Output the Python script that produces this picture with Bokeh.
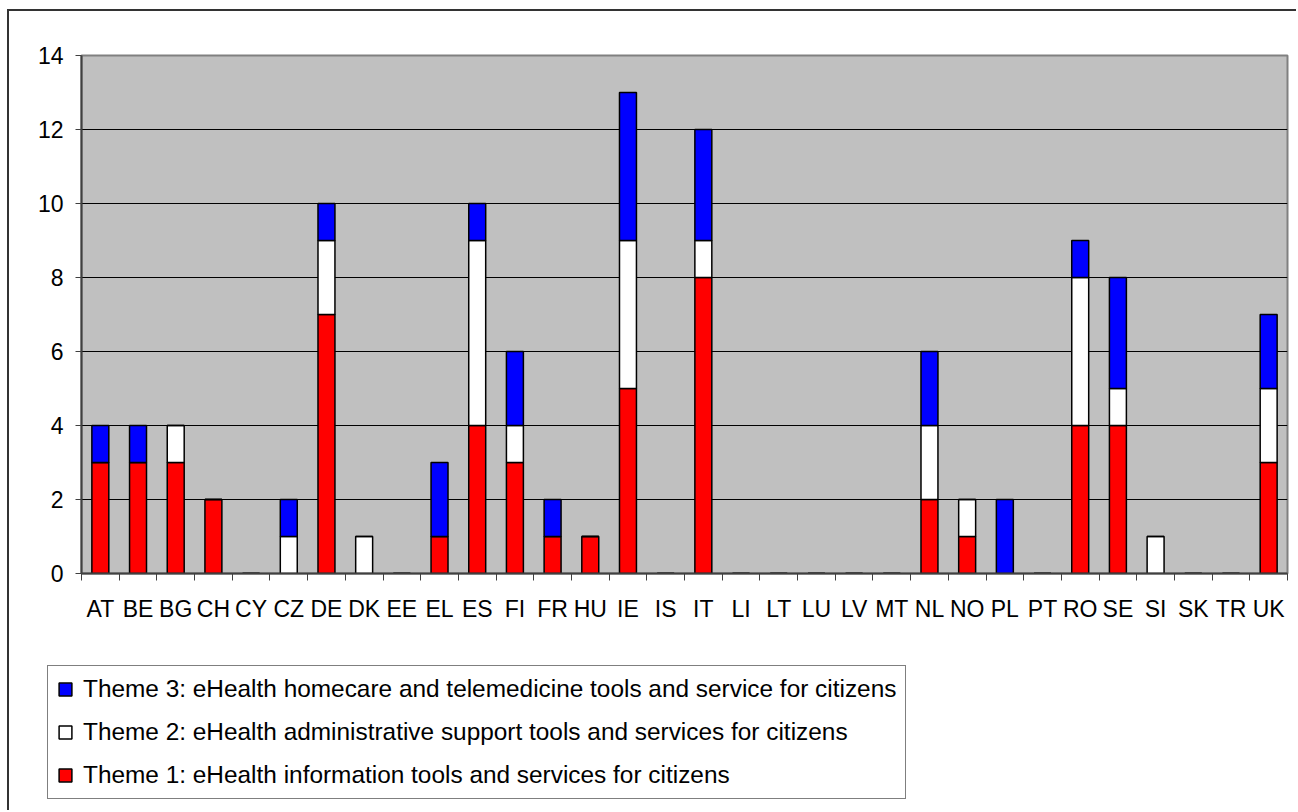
from bokeh.plotting import figure
from bokeh.layouts import column
from bokeh.models import FixedTicker, Legend, LegendItem, ColumnDataSource, Range1d
from bokeh.embed import file_html
from bokeh.resources import INLINE

countries = ["AT", "BE", "BG", "CH", "CY", "CZ", "DE", "DK", "EE", "EL", "ES", "FI",
             "FR", "HU", "IE", "IS", "IT", "LI", "LT", "LU", "LV", "MT", "NL", "NO",
             "PL", "PT", "RO", "SE", "SI", "SK", "TR", "UK"]
theme1 = [3, 3, 3, 2, 0, 0, 7, 0, 0, 1, 4, 3, 1, 1, 5, 0, 8, 0, 0, 0, 0, 0, 2, 1, 0, 0, 4, 4, 0, 0, 0, 3]
theme2 = [0, 0, 1, 0, 0, 1, 2, 1, 0, 0, 5, 1, 0, 0, 4, 0, 1, 0, 0, 0, 0, 0, 2, 1, 0, 0, 4, 1, 1, 0, 0, 2]
theme3 = [1, 1, 0, 0, 0, 1, 1, 0, 0, 2, 1, 2, 1, 0, 4, 0, 3, 0, 0, 0, 0, 0, 2, 0, 2, 0, 1, 3, 0, 0, 0, 2]
y_ticks = [0, 2, 4, 6, 8, 10, 12, 14]
labels = [
    "Theme 1: eHealth information tools and services for citizens",
    "Theme 2: eHealth administrative support tools and services for citizens",
    "Theme 3: eHealth homecare and telemedicine tools and service for citizens",
]
colors = ["#FF0000", "#FFFFFF", "#0000FF"]

FONT = "Liberation Sans"
FS = "23px"
n = len(countries)
xs = list(range(n))
source = ColumnDataSource(dict(x=xs, theme1=theme1, theme2=theme2, theme3=theme3))

p = figure(width=1287, height=639, x_range=(-0.5, n - 0.5), y_range=(0, 14),
           output_backend="svg", toolbar_location=None, frame_align=False,
           min_border_left=72, min_border_top=44, min_border_right=9, min_border_bottom=77)

p.background_fill_color = "#C0C0C0"
p.border_fill_color = "white"
p.outline_line_color = "#808080"
p.outline_line_width = 2

rs = p.vbar_stack(["theme1", "theme2", "theme3"], x="x", width=0.45, source=source,
                  fill_color=colors, line_color="black", line_width=1.5)

p.xgrid.grid_line_color = None
p.ygrid.ticker = FixedTicker(ticks=y_ticks)
p.ygrid.grid_line_color = "black"
p.ygrid.grid_line_width = 1

p.yaxis.ticker = FixedTicker(ticks=y_ticks)
p.yaxis.major_tick_out = 6
p.yaxis.major_tick_in = 0
p.yaxis.minor_tick_line_color = None
p.yaxis.axis_line_color = "#404040"
p.yaxis.axis_line_width = 2
p.yaxis.major_tick_line_color = "#404040"
p.yaxis.major_label_text_font = FONT
p.yaxis.major_label_text_font_size = FS
p.yaxis.major_label_text_color = "black"
p.yaxis.major_label_standoff = 12

p.xaxis.ticker = FixedTicker(ticks=xs, minor_ticks=[i - 0.5 for i in range(n + 1)])
p.xaxis.major_label_overrides = {i: c for i, c in enumerate(countries)}
p.xaxis.major_tick_out = 0
p.xaxis.major_tick_in = 0
p.xaxis.minor_tick_out = 7
p.xaxis.minor_tick_in = 0
p.xaxis.minor_tick_line_color = "#404040"
p.xaxis.axis_line_color = "#404040"
p.xaxis.axis_line_width = 2
p.xaxis.major_label_text_font = FONT
p.xaxis.major_label_text_font_size = FS
p.xaxis.major_label_text_color = "black"
p.xaxis.major_label_standoff = 15

# legend panel below the chart
lg = figure(width=1000, height=160, x_range=Range1d(0, 1), y_range=Range1d(0, 1),
            output_backend="svg", toolbar_location=None, frame_align=False,
            x_axis_location=None, y_axis_location=None,
            min_border_left=0, min_border_right=0, min_border_top=0, min_border_bottom=0)
lg.outline_line_color = None
lg.xgrid.grid_line_color = None
lg.ygrid.grid_line_color = None
lg.background_fill_color = "white"
lg.border_fill_color = "white"
# legend-only renderers: tiny, hidden underneath the legend box
dummies = [lg.vbar(x=[0.5], top=[0.501], bottom=[0.5], width=0.001, fill_color=c,
                   line_color="black", line_width=1.5) for c in colors]

legend = Legend(items=[LegendItem(label=labels[2], renderers=[dummies[2]]),
                       LegendItem(label=labels[1], renderers=[dummies[1]]),
                       LegendItem(label=labels[0], renderers=[dummies[0]])],
                location=(38, 11))
legend.label_text_font = FONT
legend.label_text_font_size = "24.4px"
legend.label_text_color = "black"
legend.glyph_width = 16
legend.glyph_height = 16
legend.label_standoff = 10
legend.spacing = 15
legend.padding = 9
legend.border_line_color = "black"
legend.border_line_width = 1
legend.background_fill_color = "white"
legend.background_fill_alpha = 1
lg.add_layout(legend, "center")

layout = column(p, lg, spacing=0)
layout.styles = {"margin-left": "7px", "margin-top": "9px",
                 "border-left": "2px solid #333333", "border-top": "2px solid #333333"}

open("out.html", "w").write(file_html(layout, INLINE))
